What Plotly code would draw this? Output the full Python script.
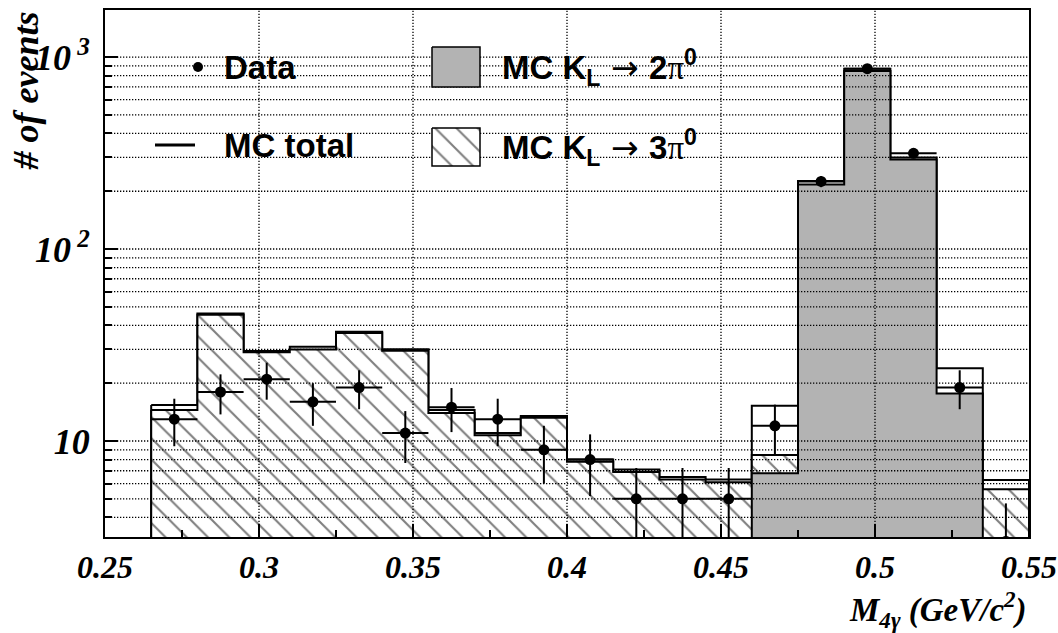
import numpy as np
import plotly.graph_objects as go

# Histogram binning in M_4gamma (GeV/c^2)
bin_edges = [0.265, 0.280, 0.295, 0.310, 0.325, 0.340, 0.355, 0.370, 0.385, 0.400,
             0.415, 0.430, 0.445, 0.460, 0.475, 0.490, 0.505, 0.520, 0.535, 0.550]

# Observed events per bin
data_counts = [13, 18, 21, 16, 19, 11, 15, 13, 9, 8, 5, 5, 5, 12, 225, 870, 315, 19, 3]

# Monte Carlo expectations per bin
mc_3pi0 = [14.5, 45.5, 29.0, 30.0, 36.5, 29.5, 14.0, 10.7, 13.2, 7.8,
           6.9, 6.3, 6.1, 8.45, 9.0, 25.0, 7.0, 6.2, 5.6]
mc_2pi0 = [0.9, 0.7, 0.4, 1.0, 0.6, 0.6, 0.5, 0.3, 0.3, 0.2,
           0.2, 0.2, 0.2, 6.8, 217.0, 845.0, 293.0, 17.7, 0.66]

x_tickvals = [0.25, 0.30, 0.35, 0.40, 0.45, 0.50, 0.55]
x_ticktext = ["0.25", "0.3", "0.35", "0.4", "0.45", "0.5", "0.55"]
y_tickvals = [10, 100, 1000]
y_ticktext = ["10", "10<sup> 2</sup>", "10<sup> 3</sup>"]
y_minor = [4, 5, 6, 7, 8, 9, 20, 30, 40, 50, 60, 70, 80, 90,
           200, 300, 400, 500, 600, 700, 800, 900]

LOG_RANGE = [0.5, 3.245]
X_RANGE = [0.25, 0.55]
FLOOR = 1e-2  # below the visible range, closes the histogram outlines

edges = np.array(bin_edges)
centers = 0.5 * (edges[:-1] + edges[1:])
half_width = 0.5 * (edges[1] - edges[0])
mc_total = [a + b for a, b in zip(mc_3pi0, mc_2pi0)]


def step_outline(values):
    xs = list(edges) + [edges[-1], edges[0], edges[0]]
    ys = list(values) + [values[-1], FLOOR, FLOOR, values[0]]
    return xs, ys


serif = dict(family="Liberation Serif", color="black", weight="bold", style="italic")
sans = dict(family="Liberation Sans", color="black", weight="bold")
hatch = dict(shape="\\", size=15, solidity=0.14, fgcolor="black", bgcolor="white")

fig = go.Figure()

# MC total: open outline
xs, ys = step_outline(mc_total)
fig.add_trace(go.Scatter(x=xs, y=ys, mode="lines", line=dict(shape="hv", color="black", width=2),
                         hoverinfo="skip", showlegend=False))

# MC K_L -> 3pi0: hatched
xs, ys = step_outline(mc_3pi0)
fig.add_trace(go.Scatter(x=xs, y=ys, mode="lines", fill="toself", fillcolor="white",
                         fillpattern=hatch,
                         line=dict(shape="hv", color="black", width=2),
                         hoverinfo="skip", showlegend=False))

# MC K_L -> 2pi0: grey fill
xs, ys = step_outline(mc_2pi0)
fig.add_trace(go.Scatter(x=xs, y=ys, mode="lines", fill="toself", fillcolor="#b3b3b3",
                         line=dict(shape="hv", color="black", width=2),
                         hoverinfo="skip", showlegend=False))

# Dotted grid drawn above the filled histograms
ymin, ymax = 10 ** LOG_RANGE[0], 10 ** LOG_RANGE[1]
gx, gy = [], []
for yv in sorted(y_minor + y_tickvals):
    gx += [X_RANGE[0], X_RANGE[1], None]
    gy += [yv, yv, None]
for xv in x_tickvals[1:-1]:
    gx += [xv, xv, None]
    gy += [ymin, ymax, None]
fig.add_trace(go.Scatter(x=gx, y=gy, mode="lines", line=dict(color="black", width=1.3, dash="1.3px,1.7px"),
                         hoverinfo="skip", showlegend=False))

# Data points with Poisson errors
fig.add_trace(go.Scatter(
    x=centers, y=data_counts, mode="markers",
    marker=dict(color="black", size=11),
    error_x=dict(type="constant", value=half_width, color="black", thickness=2, width=0),
    error_y=dict(type="data", array=np.sqrt(data_counts), color="black", thickness=2, width=0),
    hoverinfo="skip", showlegend=False))

# Legend drawn on an overlay in plot-area pixel units
def box(x0, y0, x1, y1):
    return [x0, x1, x1, x0, x0], [y0, y0, y1, y1, y0]

bx, by = box(327, 37, 375, 77)
fig.add_trace(go.Scatter(x=bx, y=by, xaxis="x2", yaxis="y2", mode="lines", fill="toself",
                         fillcolor="#b3b3b3", line=dict(color="black", width=1.5),
                         hoverinfo="skip", showlegend=False))
bx, by = box(327, 118, 375, 156)
fig.add_trace(go.Scatter(x=bx, y=by, xaxis="x2", yaxis="y2", mode="lines", fill="toself",
                         fillcolor="white", fillpattern=hatch,
                         line=dict(color="black", width=1.5),
                         hoverinfo="skip", showlegend=False))
fig.add_trace(go.Scatter(x=[93], y=[57], xaxis="x2", yaxis="y2", mode="markers",
                         marker=dict(color="black", size=10), hoverinfo="skip", showlegend=False))
fig.add_trace(go.Scatter(x=[50, 90], y=[135, 135], xaxis="x2", yaxis="y2", mode="lines",
                         line=dict(color="black", width=3), hoverinfo="skip", showlegend=False))

arrow = "<span style=\"font-family:'DejaVu Sans';font-weight:normal\"> \u2192 </span>"
pi = "<span style=\"font-family:'Liberation Serif';font-weight:normal\">\u03c0</span>"
legend_labels = [
    (117, 57, "Data"),
    (117, 135, "MC total"),
    (395, 57, "MC K<sub>L</sub>" + arrow + "2" + pi + "<sup>0</sup>"),
    (395, 137, "MC K<sub>L</sub>" + arrow + "3" + pi + "<sup>0</sup>"),
]
annotations = []
for lx, ly, txt in legend_labels:
    annotations.append(dict(x=lx, y=ly, xref="x2", yref="y2", text=txt, showarrow=False,
                            xanchor="left", yanchor="middle", font=dict(size=33, **sans)))

annotations.append(dict(x=-80 / 924, y=1.0, xref="paper", yref="paper", text="# of events",
                        textangle=-90, showarrow=False, xanchor="center", yanchor="top",
                        font=dict(size=36, **serif)))
annotations.append(dict(x=1.0, y=-72 / 527, xref="paper", yref="paper",
                        text="M<sub>4\u03b3</sub> (GeV/c<sup>2</sup>)",
                        showarrow=False, xanchor="right", yanchor="middle",
                        font=dict(size=33, **serif)))

fig.update_layout(
    width=1058, height=633,
    margin=dict(l=105, r=29, t=10, b=96),
    paper_bgcolor="white", plot_bgcolor="white",
    showlegend=False,
    annotations=annotations,
    xaxis=dict(range=X_RANGE, tickvals=x_tickvals, ticktext=x_ticktext, automargin=False,
               ticks="inside", ticklen=13, tickwidth=1.5, tickcolor="black",
               minor=dict(tickvals=[0.275, 0.325, 0.375, 0.425, 0.475, 0.525],
                          ticks="inside", ticklen=7, tickwidth=1.5, tickcolor="black"),
               showgrid=False, zeroline=False, showline=True, linecolor="black", linewidth=2,
               mirror=True, tickfont=dict(size=32, **serif), ticklabelstandoff=1,
               ticklabeloverflow="allow"),
    yaxis=dict(type="log", range=LOG_RANGE, tickvals=y_tickvals, ticktext=y_ticktext,
               automargin=False,
               ticks="inside", ticklen=13, tickwidth=1.5, tickcolor="black",
               minor=dict(tickvals=y_minor, ticks="inside", ticklen=7, tickwidth=1.5,
                          tickcolor="black"),
               showgrid=False, zeroline=False, showline=True, linecolor="black", linewidth=2,
               mirror=True, tickfont=dict(size=36, **serif), ticklabelstandoff=6),
    xaxis2=dict(overlaying="x", range=[0, 924], visible=False, fixedrange=True),
    yaxis2=dict(overlaying="y", range=[527, 0], visible=False, fixedrange=True),
)

fig.write_html("out.html")
